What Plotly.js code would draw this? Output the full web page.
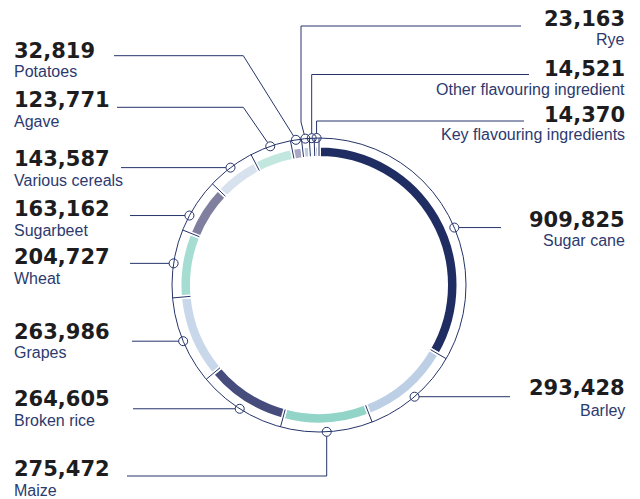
<!DOCTYPE html>
<html>
<head>
<meta charset="utf-8">
<script src="https://cdn.plot.ly/plotly-3.0.1.min.js"></script>
<style>html,body{margin:0;padding:0;background:#fff;}#chart{width:640px;height:499px;}</style>
</head>
<body>
<div id="chart"></div>
<script>
// ---- data ----
const categories = ['Sugar cane','Barley','Maize','Broken rice','Grapes','Wheat','Sugarbeet','Various cereals','Agave','Potatoes','Rye','Other flavouring ingredient','Key flavouring ingredients'];
const values = [909825,293428,275472,264605,263986,204727,163162,143587,123771,32819,23163,14521,14370];
const colors = ['#1f2d63','#bccfe5','#93d4c8','#464c7b','#c9d7ea','#a5ddd2','#807f9f','#d8e2ef','#c2e7de','#a8a6c0','#bccfe5','#c2e7de','#8f8cab'];

// ---- layout constants (pixels) ----
const W = 640, H = 499;
const CX = 319, CY = 285;
const R_OUT = 147, R_BAND_OUT = 139.5, R_BAND_IN = 127, SEP_IN = 129, DOT_R = 4.5;
const NAVY = '#26346a', NUM_COLOR = '#1d1d1f', NAME_COLOR = '#2c3a6e';
const px = x => x / W, py = y => 1 - y / H;

// callout styling/placement per category index
const callouts = [
  {ang: 67,    route: {t:'h', endX: 501}, side:'R', numY: 220, nameY: 241},
  {            route: {t:'h', endX: 510}, side:'R', numY: 388, nameY: 410},
  {            route: {t:'vh', y: 476, endX: 127}, side:'L', numY: 469, nameY: 490},
  {            route: {t:'h', endX: 133}, side:'L', numY: 399, nameY: 420},
  {            route: {t:'h', endX: 132}, side:'L', numY: 332, nameY: 352},
  {            route: {t:'h', endX: 130}, side:'L', numY: 257, nameY: 278},
  {ang: 298.2, route: {t:'h', endX: 130}, side:'L', numY: 209, nameY: 230},
  {            route: {t:'h', endX: 121}, side:'L', numY: 159, nameY: 180},
  {            route: {t:'dh', kx: 243.3, ky: 107.3, endX: 117}, side:'L', numY: 100, nameY: 121},
  {            route: {t:'dh', kx: 243.3, ky: 55.7, endX: 114}, side:'L', numY: 51, nameY: 71},
  {            route: {t:'dvh', kx: 301, ky: 122, y: 26, endX: 521}, side:'R', numY: 19, nameY: 40},
  {            route: {t:'vh', y: 74.5, endX: 529}, side:'R', numY: 69, nameY: 89},
  {            route: {t:'vh', y: 121, endX: 524}, side:'R', numY: 114.5, nameY: 134.5}
];

// ---- geometry from data ----
const total = values.reduce((a, b) => a + b, 0);
const bounds = [];
const mids = [];
let cum = 0;
values.forEach(v => {
  bounds.push(cum / total * 360);
  mids.push((cum + v / 2) / total * 360);
  cum += v;
});
function pt(deg, r) {
  const a = deg * Math.PI / 180;
  return [CX + r * Math.sin(a), CY - r * Math.cos(a)];
}

const shapes = [];
// outer ring
shapes.push({type:'circle', xref:'paper', yref:'paper',
  x0: px(CX - R_OUT), x1: px(CX + R_OUT), y0: py(CY + R_OUT), y1: py(CY - R_OUT),
  line:{color: NAVY, width: 1}, fillcolor:'rgba(0,0,0,0)'});
// separators
bounds.forEach(b => {
  const p0 = pt(b, SEP_IN), p1 = pt(b, R_OUT);
  shapes.push({type:'line', xref:'paper', yref:'paper',
    x0: px(p0[0]), y0: py(p0[1]), x1: px(p1[0]), y1: py(p1[1]),
    line:{color: NAVY, width: 1}});
});

const annotations = [];
values.forEach((v, i) => {
  const c = callouts[i];
  const ang = (c.ang !== undefined) ? c.ang : mids[i];
  const [dx, dy] = pt(ang, R_OUT);
  // route points
  const r = c.route;
  let pts;
  if (r.t === 'h') pts = [[r.endX, dy]];
  else if (r.t === 'vh') pts = [[dx, r.y], [r.endX, r.y]];
  else if (r.t === 'dh') pts = [[r.kx, r.ky], [r.endX, r.ky]];
  else pts = [[r.kx, r.ky], [r.kx, r.y], [r.endX, r.y]];
  const first = pts[0];
  const len = Math.hypot(first[0] - dx, first[1] - dy);
  const sx = dx + (first[0] - dx) / len * DOT_R, sy = dy + (first[1] - dy) / len * DOT_R;
  let path = 'M ' + px(sx) + ' ' + py(sy);
  pts.forEach(p => { path += ' L ' + px(p[0]) + ' ' + py(p[1]); });
  shapes.push({type:'path', xref:'paper', yref:'paper', path: path, line:{color: NAVY, width: 1}});
  shapes.push({type:'circle', xref:'paper', yref:'paper',
    x0: px(dx - DOT_R), x1: px(dx + DOT_R), y0: py(dy + DOT_R), y1: py(dy - DOT_R),
    line:{color: NAVY, width: 1}, fillcolor:'rgba(255,255,255,0)'});

  const ax = c.side === 'R' ? px(627) : px(12);
  const xa = c.side === 'R' ? 'right' : 'left';
  annotations.push({xref:'paper', yref:'paper', x: ax, y: py(c.numY), xanchor: xa, yanchor:'middle',
    text: '<b>' + v.toLocaleString('en-US') + '</b>', showarrow: false,
    font:{family:'DejaVu Sans', size: 21, color: NUM_COLOR}});
  annotations.push({xref:'paper', yref:'paper', x: ax, y: py(c.nameY), xanchor: xa, yanchor:'middle',
    text: categories[i], showarrow: false,
    font:{family:'Liberation Sans, Arial, sans-serif', size: 16, color: NAME_COLOR}});
});

const trace = {
  type: 'pie',
  labels: categories,
  values: values,
  sort: false,
  direction: 'clockwise',
  rotation: 0,
  hole: R_BAND_IN / R_BAND_OUT,
  marker: {colors: colors, line: {color: '#ffffff', width: 4}},
  textinfo: 'none',
  hoverinfo: 'label+value',
  showlegend: false,
  domain: {x: [px(CX - R_BAND_OUT), px(CX + R_BAND_OUT)], y: [py(CY + R_BAND_OUT), py(CY - R_BAND_OUT)]}
};

const layout = {
  width: W, height: H,
  margin: {l: 0, r: 0, t: 0, b: 0},
  paper_bgcolor: '#ffffff',
  showlegend: false,
  shapes: shapes,
  annotations: annotations
};

Plotly.newPlot('chart', [trace], layout, {displayModeBar: false, staticPlot: true});
</script>
</body>
</html>
